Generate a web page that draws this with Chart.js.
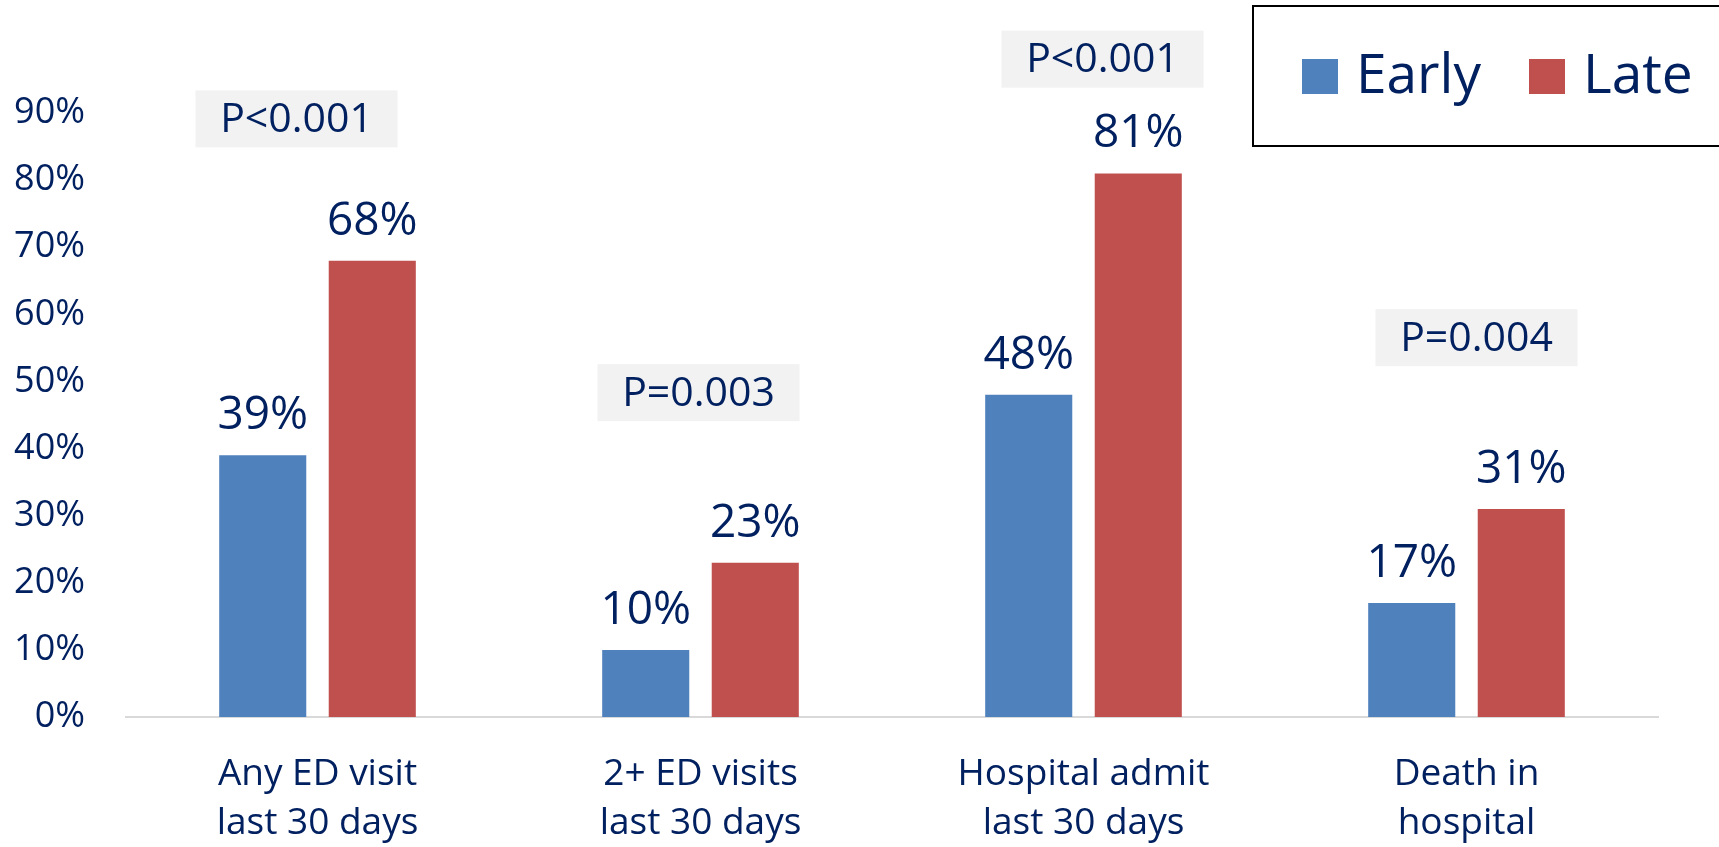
<!DOCTYPE html>
<html lang="en">
<head>
<meta charset="UTF-8">
<title>Early vs Late</title>
<script src="https://cdn.jsdelivr.net/npm/chart.js"></script>
<style>
  html, body { margin: 0; padding: 0; background: #fff; }
</style>
</head>
<body>
<canvas id="chart" width="1719" height="847"></canvas>
<script>
const categories = [
  ['Any ED visit', 'last 30 days'],
  ['2+ ED visits', 'last 30 days'],
  ['Hospital admit', 'last 30 days'],
  ['Death in', 'hospital']
];
const seriesNames = ['Early', 'Late'];
const earlyValues = [0.39, 0.10, 0.48, 0.17];
const lateValues = [0.68, 0.23, 0.81, 0.31];
const pLabels = ['P<0.001', 'P=0.003', 'P<0.001', 'P=0.004'];
const yMax = 0.9;

const navy = '#002060';
const fontFam = "'Open Sans', sans-serif";
const barColors = ['#4F81BD', '#C0504D'];

const pct = v => Math.round(v * 100) + '%';

// value labels above each bar
const valueLabels = {
  id: 'valueLabels',
  afterDatasetsDraw(chart) {
    const ctx = chart.ctx;
    ctx.save();
    ctx.font = '46px ' + fontFam;
    ctx.fillStyle = navy;
    ctx.textAlign = 'center';
    ctx.textBaseline = 'alphabetic';
    chart.data.datasets.forEach((ds, i) => {
      chart.getDatasetMeta(i).data.forEach((bar, j) => {
        ctx.fillText(pct(ds.data[j]), bar.x, bar.y - 26);
      });
    });
    ctx.restore();
  }
};

// grey p-value boxes, placed in data units on the y scale
const pBoxes = {
  id: 'pBoxes',
  afterDatasetsDraw(chart, args, opts) {
    const ctx = chart.ctx;
    const xs = chart.scales.x, ys = chart.scales.y;
    ctx.save();
    ctx.font = '41px ' + fontFam;
    ctx.textAlign = 'center';
    ctx.textBaseline = 'middle';
    pLabels.forEach((txt, i) => {
      const cx = xs.getPixelForValue(i) + opts.dx[i];
      const cy = ys.getPixelForValue(opts.level[i]);
      ctx.fillStyle = '#F2F2F2';
      ctx.fillRect(cx - 101, cy - 28, 202, 57);
      ctx.fillStyle = navy;
      ctx.fillText(txt, cx, cy + 2);
    });
    ctx.restore();
  }
};

// boxed legend in the top right corner
const boxLegend = {
  id: 'boxLegend',
  afterDraw(chart) {
    const ctx = chart.ctx;
    ctx.save();
    ctx.strokeStyle = '#000';
    ctx.lineWidth = 2;
    ctx.strokeRect(1253, 6, 500, 140);
    ctx.font = '55px ' + fontFam;
    ctx.textBaseline = 'middle';
    ctx.textAlign = 'left';
    const starts = [1302, 1529];
    chart.data.datasets.forEach((ds, i) => {
      ctx.fillStyle = ds.backgroundColor;
      ctx.fillRect(starts[i], 59, 36, 35);
      ctx.fillStyle = navy;
      ctx.fillText(ds.label, starts[i] + 54, 77);
    });
    ctx.restore();
  }
};

new Chart(document.getElementById('chart'), {
  type: 'bar',
  data: {
    labels: categories,
    datasets: [
      { label: seriesNames[0], data: earlyValues, backgroundColor: barColors[0] },
      { label: seriesNames[1], data: lateValues, backgroundColor: barColors[1] }
    ]
  },
  options: {
    responsive: false,
    animation: false,
    datasets: {
      bar: { categoryPercentage: 0.572, barPercentage: 0.795 }
    },
    layout: { padding: { left: 13, right: 61, top: 113, bottom: 0 } },
    scales: {
      x: {
        grid: { display: false, drawTicks: false },
        border: { display: true, color: '#D9D9D9', width: 2 },
        ticks: { color: navy, font: { family: fontFam, size: 37, lineHeight: 1.33 }, padding: 33 },
        afterFit: s => { s.height = 130; }
      },
      y: {
        min: 0,
        max: yMax,
        grid: { display: false, drawTicks: false },
        border: { display: false },
        ticks: {
          stepSize: 0.1,
          color: navy,
          font: { family: fontFam, size: 36 },
          padding: 41,
          callback: v => pct(v)
        },
        afterFit: s => { s.width = 113; }
      }
    },
    plugins: {
      legend: { display: false },
      tooltip: { enabled: false },
      pBoxes: { level: [0.892, 0.484, 0.981, 0.566], dx: [-21, -2, 19, 10] }
    }
  },
  plugins: [valueLabels, pBoxes, boxLegend]
});
</script>
</body>
</html>
